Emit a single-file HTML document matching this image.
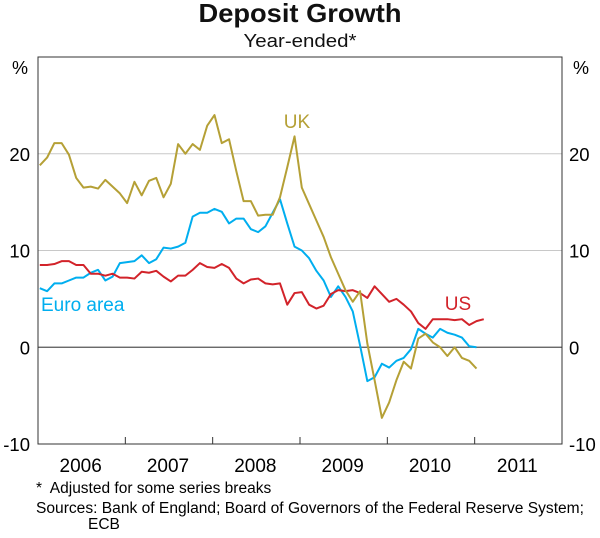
<!DOCTYPE html>
<html><head><meta charset="utf-8"><style>
body{margin:0;background:#fff;font-family:"Liberation Sans",Arial,sans-serif;}
svg text{font-family:"Liberation Sans",Arial,sans-serif;}
</style></head><body>
<svg width="600" height="533" viewBox="0 0 600 533">
<text x="300" y="22" text-anchor="middle" font-size="26" font-weight="bold" fill="#111" textLength="203" lengthAdjust="spacingAndGlyphs">Deposit Growth</text>
<text x="300" y="47" text-anchor="middle" font-size="18" fill="#111" textLength="113" lengthAdjust="spacingAndGlyphs">Year-ended*</text>
<text x="20" y="74" text-anchor="middle" font-size="18">%</text>
<text x="581" y="74" text-anchor="middle" font-size="18">%</text>
<g id="grid"></g>
<g id="series"></g>
<rect x="38" y="57" width="524" height="387" fill="none" stroke="#333" stroke-width="1"/>
<g id="axes"></g>
<text x="297" y="128" text-anchor="middle" font-size="19" fill="#b5a036">UK</text>
<text x="41" y="311" font-size="19" fill="#00aeef">Euro area</text>
<text x="458" y="310" text-anchor="middle" font-size="19" fill="#d2232a">US</text>
<text x="36" y="493" font-size="15.5" xml:space="preserve">*  Adjusted for some series breaks</text>
<text x="36" y="513" font-size="15.5" textLength="548" lengthAdjust="spacingAndGlyphs">Sources: Bank of England; Board of Governors of the Federal Reserve System;</text>
<text x="88" y="529" font-size="15.5">ECB</text>
</svg>
<script>
const years=["2006","2007","2008","2009","2010","2011"];
const yTicks=[-10,0,10,20];
const uk=[18.8,19.6,21.1,21.1,19.9,17.5,16.5,16.6,16.4,17.3,16.6,15.9,14.9,17.1,15.7,17.2,17.5,15.5,16.9,21.0,20.0,21.0,20.4,22.9,24.0,21.1,21.5,18.2,15.1,15.1,13.6,13.7,13.7,15.5,18.6,21.8,16.5,14.8,13.1,11.4,9.3,7.6,5.9,4.7,5.8,0.4,-3.4,-7.3,-5.7,-3.4,-1.5,-2.2,0.9,1.4,0.5,0,-0.9,0,-1.1,-1.4,-2.2];
const euro=[6.1,5.8,6.6,6.6,6.9,7.2,7.2,7.7,8.0,6.9,7.3,8.7,8.8,8.9,9.5,8.7,9.1,10.3,10.2,10.4,10.8,13.5,13.9,13.9,14.3,14.0,12.8,13.3,13.3,12.2,11.9,12.5,13.9,15.3,12.8,10.4,10.0,9.2,7.9,6.9,5.2,6.3,5.2,3.7,0.2,-3.5,-3.1,-1.7,-2.1,-1.4,-1.1,-0.2,1.9,1.4,1.0,1.9,1.5,1.3,1.0,0.1,0.0];
const us=[8.5,8.5,8.6,8.9,8.9,8.5,8.5,7.6,7.6,7.4,7.6,7.2,7.2,7.1,7.8,7.7,7.9,7.3,6.8,7.4,7.4,8.0,8.7,8.3,8.2,8.6,8.2,7.1,6.6,7.0,7.1,6.6,6.5,6.6,4.4,5.6,5.7,4.4,4.0,4.3,5.5,5.9,5.8,5.9,5.6,5.1,6.3,5.5,4.7,5.0,4.4,3.7,2.5,1.9,2.9,2.9,2.9,2.8,2.9,2.3,2.7,2.9];
const X0=38,X1=562,Y0=444,Y1=57,YMIN=-10,YMAX=30;
const xm=i=>X0+(X1-X0)/72*(i+0.25);
const yv=v=>Y0-(v-YMIN)/(YMAX-YMIN)*(Y0-Y1);
const NS="http://www.w3.org/2000/svg";
const grid=document.getElementById('grid'),axes=document.getElementById('axes'),ser=document.getElementById('series');
function mk(tag,attrs,parent){const e=document.createElementNS(NS,tag);for(const k in attrs)e.setAttribute(k,attrs[k]);parent.appendChild(e);return e;}
yTicks.forEach(t=>{
  if(t>YMIN){
    const l=mk('line',{x1:X0,x2:X1,y1:yv(t),y2:yv(t),stroke:t===0?'#555':'#c8c8c8','stroke-width':t===0?1.3:1},grid);
    
    
  }
  const a=mk('text',{x:30,y:yv(t)+7,'text-anchor':'end','font-size':18.5},axes);a.textContent=t;
  
  
  const b=mk('text',{x:569,y:yv(t)+7,'text-anchor':'start','font-size':18.5},axes);b.textContent=t;
  
  
});
const yw=(X1-X0)/years.length;
years.forEach((y,i)=>{
  if(i>0){const tk=mk('line',{x1:X0+yw*i,x2:X0+yw*i,y1:Y0,y2:Y0-7,stroke:'#333'},axes);
  
  }
  const t=mk('text',{x:X0+yw*(i+0.5)-1,y:472,'text-anchor':'middle','font-size':19},axes);t.textContent=y;
  
  
});
function line(data,color,name){
  const p=mk('polyline',{points:data.map((v,i)=>xm(i)+','+yv(v)).join(' '),fill:'none',stroke:color,'stroke-width':2,'stroke-linejoin':'round'},ser);
  
  
}
line(euro,'#00aeef','euro-area-line');
line(us,'#d2232a','us-line');
line(uk,'#b5a036','uk-line');
</script>
</body></html>
